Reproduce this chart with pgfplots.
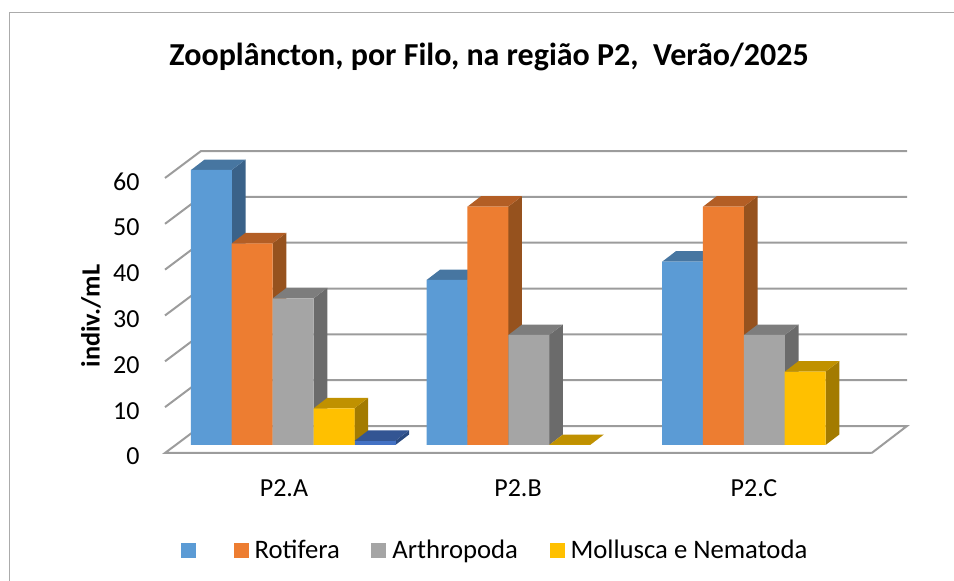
\documentclass[border=0pt]{standalone}
\usepackage{pgfplots}
\pgfplotsset{compat=1.18}
\usepackage{fontspec}
\setmainfont{Carlito}
\definecolor{gridc}{HTML}{9C9C9C}
\definecolor{frame}{HTML}{ABABAB}
\definecolor{bF}{HTML}{5B9BD5}\definecolor{bT}{HTML}{4776A1}\definecolor{bS}{HTML}{3A6289}
\definecolor{oF}{HTML}{ED7D31}\definecolor{oT}{HTML}{B35E25}\definecolor{oS}{HTML}{96521E}
\definecolor{gF}{HTML}{A5A5A5}\definecolor{gT}{HTML}{7D7D7D}\definecolor{gS}{HTML}{6B6B6B}
\definecolor{yF}{HTML}{FFC000}\definecolor{yT}{HTML}{C09100}\definecolor{yS}{HTML}{A37B00}
\definecolor{dF}{HTML}{4472C4}\definecolor{dT}{HTML}{335593}\definecolor{dS}{HTML}{2A4A80}
% side and top faces of one bar: centre x, value, side colour, top colour
\newcommand\depth[4]{%
  \pgfmathsetmacro\xa{#1+20.4}\pgfmathsetmacro\xb{\xa+13.7}\pgfmathsetmacro\xc{#1-20.4}\pgfmathsetmacro\xd{\xc+13.7}%
  \pgfmathsetmacro\yb{#2+2.29}%
  \addplot[forget plot,fill=#3,draw=none] coordinates {(\xa,0)(\xb,2.29)(\xb,\yb)(\xa,#2)} -- cycle;
  \addplot[forget plot,fill=#4,draw=none] coordinates {(\xc,#2)(\xa,#2)(\xb,\yb)(\xd,\yb)} -- cycle;
}
\pgfplotsset{
  sq/.style={legend image code/.code={\fill[##1] (0pt,-7.5pt) rectangle (15pt,7.5pt);}},
  barplot/.style={ybar,bar width=41,bar shift=0pt,draw=none,sq}
}
\begin{document}
\begin{tikzpicture}[x=1pt,y=1pt]
\path[use as bounding box] (0,0) rectangle (954,581);
\draw[frame,line width=1.5pt] (9.5,0) -- (9.5,568.5) -- (954,568.5);
% walls and floor
\begin{axis}[
  at={(165pt,128pt)},anchor=south west,scale only axis,width=706.7pt,height=275pt,
  xmin=165,xmax=871.7,ymin=0,ymax=60,clip=false,
  /pgf/number format/assume math mode=true,
  axis line style={draw=none},major tick style={draw=none},
  xtick={284,518,754},xticklabels={P2.A,P2.B,P2.C},
  ytick={0,10,20,30,40,50,60},
  tick label style={font=\fontsize{26}{30}\selectfont},
  xticklabel style={font=\fontsize{26}{30}\selectfont,yshift=-23pt},
  yticklabel style={xshift=-22pt,yshift=-3.5pt},
  title={Zooplâncton, por Filo, na região P2,\ \ Verão/2025},
  title style={at={(0.4585,1.418)},anchor=center,font=\fontsize{32}{38}\selectfont\bfseries},
  ylabel={indiv./mL},
  ylabel style={at={(axis description cs:-0.1047,0.498)},anchor=center,rotate=0,font=\fontsize{26.3}{30}\selectfont\bfseries},
]
\addplot[gridc,line width=2pt,no marks] coordinates {(165,60)(201,65.89)(907,65.89)};
\addplot[gridc,line width=2pt,no marks] coordinates {(165,50)(201,55.89)(907,55.89)};
\addplot[gridc,line width=2pt,no marks] coordinates {(165,40)(201,45.89)(907,45.89)};
\addplot[gridc,line width=2pt,no marks] coordinates {(165,30)(201,35.89)(907,35.89)};
\addplot[gridc,line width=2pt,no marks] coordinates {(165,20)(201,25.89)(907,25.89)};
\addplot[gridc,line width=2pt,no marks] coordinates {(165,10)(201,15.89)(907,15.89)};
\addplot[gridc,line width=2pt,no marks] coordinates {(871.7,0)(165,0)(201,5.89)(907,5.89)(871.7,0)};
\end{axis}
% bars
\begin{axis}[
  at={(165pt,136pt)},anchor=south west,scale only axis,width=706.7pt,height=275pt,
  xmin=165,xmax=871.7,ymin=0,ymax=60,clip=false,hide axis,
  legend columns=4,
  legend style={draw=none,fill=none,at={(axis description cs:0.0184,-0.383)},anchor=west,
    font=\fontsize{26.7}{32}\selectfont,
    /tikz/every even column/.append style={column sep=29.5pt},
    /tikz/every odd column/.append style={column sep=4pt}},
  legend cell align=left,
]
\depth{211.4}{60}{bS}{bT}\depth{447}{36}{bS}{bT}\depth{682.6}{40}{bS}{bT}
\addplot[barplot,fill=bF] coordinates {(211.4,60)(447,36)(682.6,40)};
\addlegendentry{}
\depth{252.2}{44}{oS}{oT}\depth{487.8}{52}{oS}{oT}\depth{723.4}{52}{oS}{oT}
\addplot[barplot,fill=oF] coordinates {(252.2,44)(487.8,52)(723.4,52)};
\addlegendentry{Rotifera}
\depth{293.2}{32}{gS}{gT}\depth{528.8}{24}{gS}{gT}\depth{764.4}{24}{gS}{gT}
\addplot[barplot,fill=gF] coordinates {(293.2,32)(528.8,24)(764.4,24)};
\addlegendentry{Arthropoda}
\depth{334}{8}{yS}{yT}\depth{569.6}{0}{yS}{yT}\depth{805.2}{16}{yS}{yT}
\addplot[barplot,fill=yF] coordinates {(334,8)(569.6,0)(805.2,16)};
\addlegendentry{Mollusca e Nematoda}
\depth{375}{0.9}{dS}{dT}
\addplot[barplot,fill=dF,forget plot] coordinates {(375,0.9)};
\end{axis}
\end{tikzpicture}
\end{document}
